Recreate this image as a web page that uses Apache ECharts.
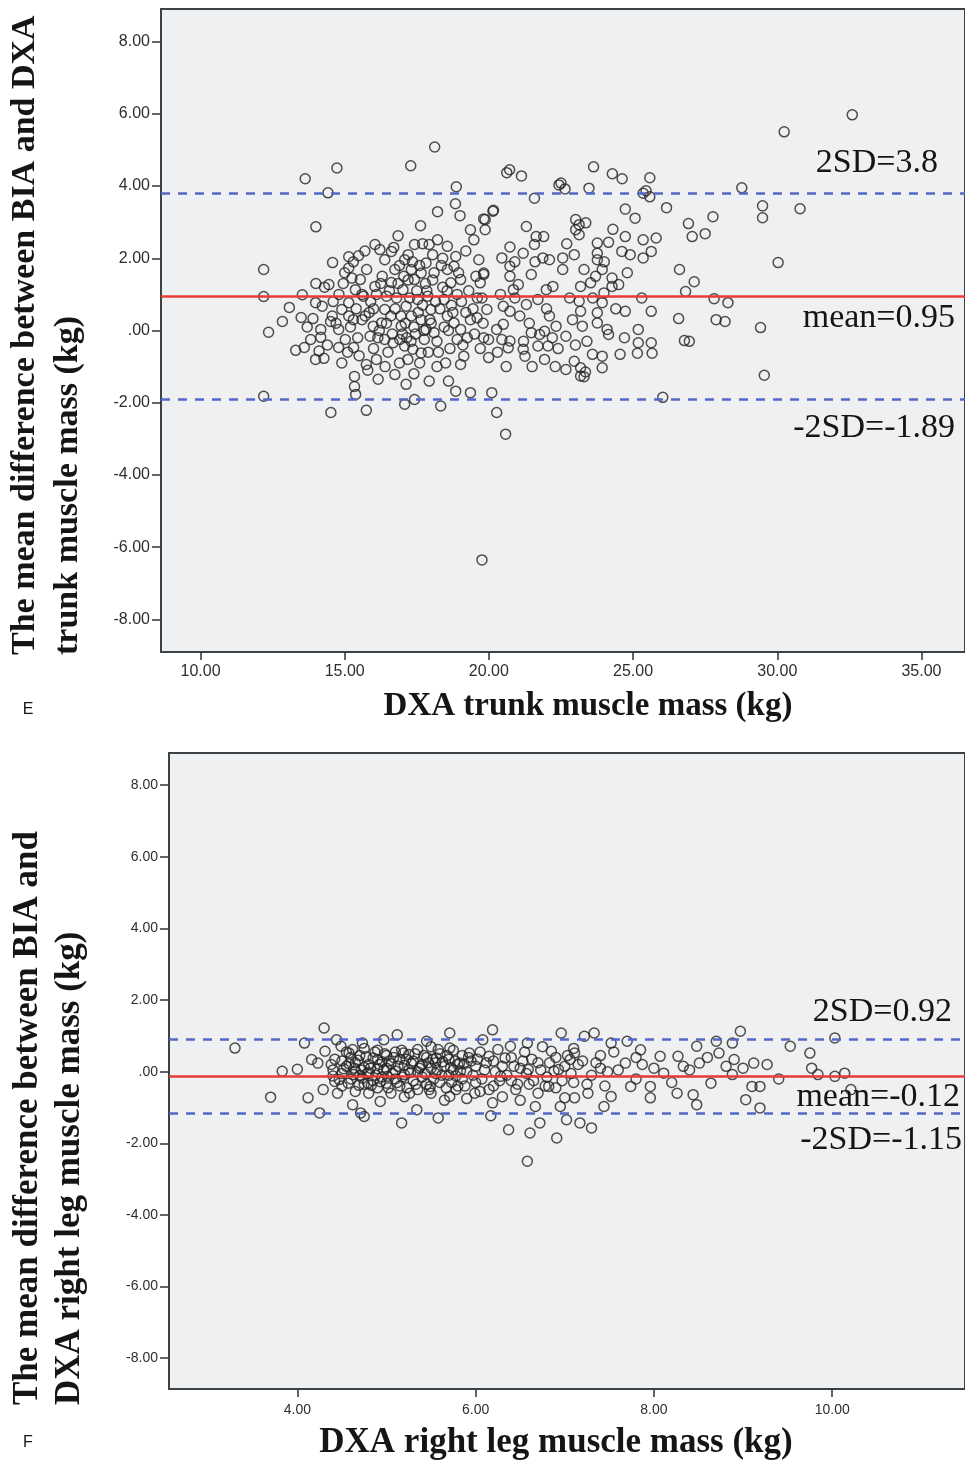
<!DOCTYPE html>
<html>
<head>
<meta charset="utf-8">
<script src="https://cdn.jsdelivr.net/npm/echarts@6/dist/echarts.min.js"></script>
<style>
  html, body { margin: 0; padding: 0; background: #fff; }
  #chart { width: 965px; height: 1463px; }
</style>
</head>
<body>
<div id="chart"></div>
<script>
// panel E: DXA trunk muscle mass vs BIA-DXA difference
var trunkPoints = [
  [12.19,1.69],[12.19,0.94],[12.36,-0.05],[12.19,-1.82],[13.63,4.20],[14.73,4.50],[14.42,3.81],[14.0,2.87],
  [12.84,0.25],[14.52,-2.27],[15.75,-2.21],[17.29,4.56],[18.12,5.08],[18.87,3.98],[19.76,-6.35],[20.58,-2.87],
  [20.27,-2.27],[20.72,4.45],[21.13,4.28],[22.43,4.03],[22.64,3.92],[23.63,4.53],[24.28,4.34],[24.62,4.20],
  [25.58,4.23],[25.45,3.87],[25.58,3.70],[26.16,3.40],[26.03,-1.85],[28.77,3.95],[27.77,3.15],[27.5,2.68],
  [26.92,2.96],[27.05,2.60],[26.61,1.69],[27.12,1.35],[26.82,1.08],[27.81,0.88],[28.29,0.77],[27.88,0.30],
  [28.19,0.25],[26.78,-0.28],[26.95,-0.3],[26.58,0.33],[29.42,0.08],[29.55,-1.24],[29.49,3.12],[29.49,3.45],
  [30.03,1.88],[30.24,5.50],[30.79,3.37],[32.6,5.97],
  [18.84,3.51],[19.0,3.18],[18.22,3.29],[17.63,2.90],[16.85,2.62],[16.05,2.38],[13.08,0.64],[13.53,0.99],
  [13.49,0.36],[13.6,-0.47],[13.82,-0.25],[13.99,-0.80],[14.28,-0.77],[14.17,-0.19],[13.9,0.33],[13.99,0.77],
  [14.45,1.27],[14.58,1.88],[14.51,0.25],[14.9,0.58],[15.14,2.04],[15.48,2.07],[14.79,-0.47],[15.31,-0.47],
  [15.34,-1.27],[15.34,-1.55],[15.38,-1.77],[15.75,-0.94],[16.1,-0.8],[16.16,-1.35],[15.88,-0.16],[15.99,0.12],
  [15.71,0.40],[15.65,0.95],[15.54,1.41],[15.76,1.69],[16.05,1.22],[16.22,2.24],[16.39,1.96],[16.62,2.19],
  [16.74,1.69],[16.62,1.33],[16.45,0.95],[16.39,0.58],[16.28,0.21],[16.39,-0.25],[16.68,-0.34],[16.74,-1.22],
  [17.13,-1.49],[17.08,-2.04],[17.42,-1.91],[17.93,-1.4],[18.33,-2.09],[18.85,-1.68],[19.36,-1.72],[19.02,-0.94],
  [19.13,-0.71],[18.9,-0.25],[19.02,0.03],[18.79,0.21],[18.56,0.40],[18.45,0.86],[18.68,1.32],[19.02,1.41],
  [18.56,1.69],[18.79,1.78],[18.85,2.05],[18.56,2.33],[18.22,2.51],[17.93,2.38],[18.05,2.1],[17.82,1.87],
  [17.65,1.59],[17.42,1.41],[17.31,1.69],[17.42,2.38],[17.08,1.96],[17.02,1.13],[17.13,0.67],[17.53,0.86],
  [17.88,0.95],[17.99,0.58],[17.65,0.30],[17.31,0.40],[16.96,0.12],[16.91,-0.25],[17.08,-0.43],[17.36,-0.52],
  [17.65,-0.62],[17.76,-0.25],[17.82,0.03],[18.1,-0.06],[17.19,-0.80],[14.57,0.40],[14.79,0.03],[15.02,-0.25],
  [15.14,0.40],[15.14,0.77],[15.37,1.13],[15.25,1.45],[15.14,1.73],[14.22,0.67],[14.17,0.03],[14.11,-0.57],
  [19.76,0.90],[19.7,1.32],[19.82,1.59],[19.65,1.96],[19.48,2.51],[19.36,2.79],[19.87,2.79],[19.82,3.09],
  [20.14,3.30],[19.93,0.58],[19.59,0.35],[19.36,0.30],[19.99,-0.25],[19.99,-0.75],[20.1,-1.72],[20.27,0.03],
  [20.62,4.37],[22.5,4.08],[23.47,3.94],[25.35,3.80],[21.58,3.66],[20.16,3.33],[19.87,3.07],[21.3,2.88],
  [21.64,2.60],[21.58,2.38],[20.73,2.31],[21.19,2.14],[21.87,2.01],[22.1,1.96],[22.56,2.01],[22.96,2.10],
  [22.56,1.69],[23.01,3.07],[23.13,2.93],[23.01,2.79],[23.36,2.98],[23.13,2.65],[23.76,2.42],[24.15,2.44],
  [23.76,2.14],[23.76,1.96],[24.61,2.19],[24.73,2.60],[24.73,3.36],[25.07,3.11],[25.35,2.51],[25.35,2.01],
  [25.63,2.19],[25.8,2.56],[25.63,0.53],[25.63,-0.34],[25.18,0.03],[25.18,-0.34],[25.3,0.90],[24.73,0.53],
  [24.55,-0.66],[24.5,1.27],[24.27,1.22],[24.27,1.45],[23.93,1.69],[23.7,1.50],[23.99,1.04],[23.93,0.77],
  [23.76,0.49],[23.76,0.21],[24.1,0.03],[24.15,-0.11],[23.93,-0.71],[23.93,-1.03],[23.59,-0.66],[23.18,0.53],
  [23.24,0.12],[23.13,0.81],[23.18,1.22],[23.3,1.69],[23.53,1.32],[22.96,-0.85],[22.67,-1.08],[23.18,-1.03],
  [23.18,-1.26],[22.67,-0.16],[22.33,0.12],[22.1,0.40],[22.22,1.22],[21.99,1.13],[21.7,0.86],[21.47,1.55],
  [21.02,1.27],[20.85,1.13],[20.73,1.50],[20.45,2.01],[20.73,1.78],[19.82,1.55],[20.5,0.67],[20.73,0.53],
  [21.07,0.40],[21.3,0.72],[19.82,-0.20],[20.5,0.17],[20.45,-0.25],[20.73,-0.29],[20.67,-0.48],[21.19,-0.52],
  [21.25,-0.71],[21.47,-0.06],[21.76,-0.11],[21.93,-0.02],[22.05,-0.43],[21.93,-0.80],[21.7,-0.43],
  [25.15,-0.63],[25.66,-0.63],[23.3,-1.28],[23.35,-1.15],
  [15.2,0.1],[15.4,0.6],[15.6,0.3],[15.9,0.8],[16.0,-0.5],[16.2,0.0],[16.3,1.5],[16.5,-0.6],
  [16.6,0.4],[16.8,0.9],[16.9,1.8],[17.0,-0.1],[17.1,0.2],[17.2,1.4],[17.3,-0.3],[17.4,0.1],
  [17.5,1.1],[17.6,-0.9],[17.7,0.7],[17.8,1.3],[17.9,-0.6],[18.0,0.2],[18.1,1.6],[18.2,-0.3],
  [18.3,0.6],[18.4,1.2],[18.5,-0.9],[18.6,0.0],[18.7,0.7],[18.9,1.0],[19.1,-0.4],[19.2,0.5],
  [19.3,1.1],[19.5,-0.1],[19.6,0.9],[19.8,0.2],[15.5,-0.7],[15.8,-1.1],[16.4,-1.0],[16.9,-0.9],
  [17.4,-1.2],[18.2,-1.0],[18.6,-1.4],[14.8,1.0],[14.9,-0.9],[15.0,1.6],[15.3,1.9],[15.7,2.2],
  [16.1,1.0],[16.7,2.3],[17.2,2.1],[17.7,2.4],[18.4,2.0],[19.2,2.2],[14.4,-0.4],[14.6,0.8],
  [13.7,0.1],[13.3,-0.55],[14.0,1.3],[14.3,1.2],
  [20.9,0.9],[21.4,0.2],[21.6,1.9],[22.0,0.6],[22.4,-0.5],[22.8,0.9],[22.9,0.3],[23.4,-0.3],
  [23.6,0.9],[24.0,1.9],[24.4,0.6],[24.8,1.6],[22.3,-1.0],[21.2,-0.3],[20.4,1.0],[20.9,1.9],
  [22.7,2.4],[24.3,2.8],[21.9,2.6],[22.2,-0.2],[23.0,-0.4],[24.7,-0.2],[24.9,2.1],[20.3,-0.6],
  [20.6,-1.0],[21.5,-1.0],
  [15.1,-0.6],[15.3,0.3],[15.45,-0.2],[15.6,1.0],[15.85,0.5],[16.0,0.6],[16.15,-0.2],[16.25,1.3],
  [16.45,0.2],[16.55,1.1],[16.65,-0.1],[16.75,0.6],[16.85,1.3],[16.95,0.4],[17.05,1.5],[17.15,-0.2],
  [17.25,0.9],[17.35,1.9],[17.45,-0.1],[17.55,0.5],[17.6,1.8],[17.75,0.0],[17.85,1.1],[17.95,0.3],
  [18.05,1.4],[18.15,0.8],[18.25,-0.6],[18.35,1.8],[18.45,0.1],[18.55,1.1],[18.65,-0.5],[18.75,0.5],
  [18.95,1.6],[19.05,0.8],[19.25,-0.2],[19.45,0.6],[19.55,1.5],[19.7,-0.5],[14.7,0.2],[14.95,1.3]
];
var trunkLimits = [3.8, 0.95, -1.89];
var trunkXTicks = [10, 15, 20, 25, 30, 35];

// panel F: DXA right leg muscle mass vs BIA-DXA difference
var legPoints = [
  [3.30,0.66],[3.70,-0.71],[3.83,0.01],[4.0,0.07],[4.08,0.80],[4.30,1.22],[4.12,-0.73],[4.25,-1.15],
  [4.16,0.34],[4.23,0.24],[4.31,0.57],[4.29,-0.50],[4.38,0.20],[4.44,0.89],[4.49,0.71],[4.42,-0.27],
  [4.45,-0.60],[4.58,0.52],[4.62,-0.92],[4.71,-1.15],[4.75,-1.25],[4.73,0.80],[4.64,0.10],[4.79,-0.32],
  [4.90,0.34],[4.97,0.89],[4.93,-0.83],[5.01,-0.13],[5.12,1.03],[5.17,-1.43],[5.19,0.52],[5.26,-0.60],
  [5.34,-1.06],[5.38,0.15],[5.45,0.85],[5.49,-0.41],[5.58,-1.29],[5.56,0.38],[5.71,1.08],[5.71,0.66],
  [5.71,-0.69],[5.82,0.24],[5.78,-0.50],[5.93,0.52],[5.99,-0.60],[6.08,0.89],[6.15,0.43],[6.19,1.17],
  [6.19,-0.87],[6.17,-1.23],[6.28,-0.13],[6.37,-1.62],[6.39,0.71],[6.45,-0.50],[6.58,0.80],[6.61,-1.71],
  [6.58,-2.50],[6.59,0.06],[6.72,-1.43],[6.67,-0.97],[6.85,0.57],[6.82,-0.41],[6.91,-1.85],[6.96,1.08],
  [6.93,0.06],[7.02,-1.34],[7.0,-0.73],[7.06,0.34],
  [7.22,0.99],[7.33,1.08],[7.11,0.52],[6.95,-0.97],[7.17,-1.43],[7.3,-1.57],[7.11,-0.73],[7.26,-0.60],
  [7.44,-0.97],[7.52,-0.69],[7.52,0.80],[7.70,0.85],[7.68,0.24],[7.74,-0.41],[7.85,0.61],[7.87,0.20],
  [7.96,-0.41],[7.96,-0.73],[8.07,0.43],[8.11,-0.04],[8.26,-0.60],[8.27,0.43],[8.33,0.15],[8.44,-0.64],
  [8.48,-0.92],[8.48,0.71],[8.51,0.24],[8.64,-0.32],[8.70,0.85],[8.73,0.52],[8.81,0.15],[8.88,0.80],
  [8.90,0.34],[8.97,1.13],[8.88,-0.08],[9.03,-0.78],[9.10,-0.41],[9.12,0.24],[9.19,-0.41],[9.19,-1.01],
  [9.27,0.20],[9.53,0.71],[9.75,0.52],[9.77,0.10],[9.84,-0.08],[10.03,0.94],[10.03,-0.13],[10.14,-0.04],
  [10.21,-0.50],
  [4.40,0.05],[4.40,-0.12],[4.50,0.30],[4.50,-0.05],[4.50,-0.40],[4.55,0.15],[4.55,0.55],[4.60,-0.20],
  [4.60,0.40],[4.65,0.02],[4.65,-0.55],[4.65,0.25],[4.70,0.45],[4.70,-0.10],[4.75,-0.35],[4.75,0.12],
  [4.75,0.65],[4.80,0.20],[4.80,-0.60],[4.80,-0.02],[4.85,0.38],[4.85,-0.25],[4.90,0.08],[4.90,-0.45],
  [4.90,0.60],[4.95,-0.15],[4.95,0.28],[5.00,0.45],[5.00,-0.32],[5.00,0.10],[5.05,-0.60],[5.05,0.22],
  [5.10,0.02],[5.10,0.55],[5.10,-0.20],[5.15,0.35],[5.15,-0.40],[5.20,-0.08],[5.20,0.18],[5.20,-0.70],
  [5.25,0.48],[5.25,0.05],[5.30,-0.25],[5.30,0.30],[5.35,0.62],[5.35,-0.50],[5.35,0.00],[5.40,0.20],
  [5.40,-0.15],[5.45,-0.35],[5.45,0.40],[5.50,0.10],[5.50,-0.60],[5.50,0.70],[5.55,-0.05],[5.55,0.25],
  [5.60,0.50],[5.60,-0.30],[5.65,0.15],[5.65,-0.80],[5.70,-0.10],[5.70,0.35],[5.75,0.60],[5.75,0.05],
  [5.80,-0.40],[5.80,0.20],[5.85,0.45],[5.85,-0.20],[5.90,0.00],[5.90,-0.75],[5.95,0.30],[6.00,-0.30],
  [6.00,0.15],[6.05,0.55],[6.05,-0.55],[6.10,0.05],[6.20,0.30],[6.20,-0.40],[6.25,0.62],[6.30,-0.70],
  [6.30,0.15],[6.40,0.40],[6.40,-0.25],[6.50,0.10],[6.50,-0.80],[6.55,0.55],[6.60,-0.35],[6.70,0.25],
  [6.70,-0.60],[6.75,0.70],[6.80,-0.15],[6.90,0.40],[6.90,-0.45],[7.00,0.15],[7.10,-0.30],[7.10,0.65],
  [7.20,0.30],[7.30,-0.10],[7.40,0.45],[7.40,0.10],[7.45,-0.40],[7.55,0.55],[7.60,0.05],[7.80,-0.20],
  [7.80,0.40],[8.00,0.10],[8.20,-0.30],[8.40,0.05],[8.60,0.40],[9.00,0.10],[9.40,-0.20],
  [4.42,0.35],[4.47,-0.22],[4.52,0.08],[4.57,-0.32],[4.58,0.22],[4.62,0.62],[4.63,-0.08],[4.68,0.32],
  [4.69,-0.38],[4.72,0.05],[4.73,-0.18],[4.77,0.42],[4.78,-0.05],[4.82,0.10],[4.83,-0.38],[4.87,0.55],
  [4.88,-0.10],[4.92,0.20],[4.93,-0.28],[4.97,0.05],[4.98,0.50],[5.02,-0.45],[5.03,0.30],[5.07,-0.05],
  [5.08,0.40],[5.12,-0.30],[5.13,0.15],[5.17,0.60],[5.18,-0.15],[5.22,0.35],[5.23,-0.45],[5.27,-0.02],
  [5.28,0.22],[5.32,0.50],[5.33,-0.35],[5.37,0.10],[5.42,0.45],[5.43,-0.05],[5.47,0.25],[5.48,-0.50],
  [5.52,0.35],[5.53,-0.20],[5.57,0.05],[5.58,0.62],[5.62,-0.10],[5.63,0.28],[5.67,-0.45],[5.68,0.45],
  [5.72,0.12],[5.73,-0.30],[5.77,0.30],[5.78,-0.12],[5.83,0.02],[5.87,0.22],[5.88,-0.40],[5.92,0.40],
  [5.97,-0.10],[6.02,0.35],[6.07,-0.20],[6.12,0.25],[6.15,-0.50],[6.22,0.00],[6.27,-0.25],[6.33,0.38],
  [6.35,-0.10],[6.43,0.15],[6.47,-0.35],[6.53,0.30],[6.57,-0.05],[6.63,0.35],[6.65,-0.25],[6.73,0.05],
  [6.78,-0.40],[6.83,0.25],[6.88,0.02],[6.97,-0.25],[7.03,0.45],[7.07,-0.05],[7.15,0.20],[7.25,-0.35],
  [7.35,0.25],[7.48,0.00]
];
var legLimits = [0.92, -0.12, -1.15];
var legXTicks = [4, 6, 8, 10];

var yTicks = [-8, -6, -4, -2, 0, 2, 4, 6, 8];

var plotBg = '#eef0f1';
var frame = '#3a4246';
var red = '#e83a36';
var blue = '#5567c6';

function fmt(v) {
  return v === 0 ? '.00' : v.toFixed(2);
}

function limitLines(vals) {
  return {
    silent: true,
    symbol: ['none', 'none'],
    label: { show: false },
    data: [
      { yAxis: vals[0], lineStyle: { color: blue, width: 2.5, type: [9, 8] } },
      { yAxis: vals[1], lineStyle: { color: red, width: 2.5, type: 'solid' } },
      { yAxis: vals[2], lineStyle: { color: blue, width: 2.5, type: [9, 8] } }
    ]
  };
}

function xAxisFor(grid, min, max, ticks, size, margin) {
  return {
    gridIndex: grid, type: 'value', min: min, max: max,
    splitLine: { show: false },
    axisLine: { show: false, onZero: false },
    axisTick: { show: true, length: 8, customValues: ticks, lineStyle: { color: '#333', width: 1.5 } },
    axisLabel: { customValues: ticks, formatter: fmt, fontSize: size, margin: margin,
      color: '#2e2e2e', fontFamily: '"Liberation Sans", Arial, sans-serif' }
  };
}

function yAxisFor(grid, min, max, size) {
  return {
    gridIndex: grid, type: 'value', min: min, max: max,
    splitLine: { show: false },
    axisLine: { show: false, onZero: false },
    axisTick: { show: true, length: 9, customValues: yTicks, lineStyle: { color: '#333', width: 1.5 } },
    axisLabel: { customValues: yTicks, formatter: fmt, fontSize: size, margin: 11,
      color: '#2e2e2e', fontFamily: '"Liberation Sans", Arial, sans-serif' }
  };
}

function scatterFor(idx, pts, lines) {
  return {
    type: 'scatter', xAxisIndex: idx, yAxisIndex: idx,
    data: pts, symbol: 'circle', symbolSize: 10,
    itemStyle: { color: 'rgba(0,0,0,0)', borderColor: '#242424', borderWidth: 1.5 },
    markLine: limitLines(lines)
  };
}

var serif = '"Liberation Serif", "Times New Roman", serif';
function txt(x, y, s, font, align, rot) {
  return {
    type: 'text', x: x, y: y, z: 100, rotation: rot || 0,
    style: { text: s, font: font, fill: '#151515', textAlign: align, textVerticalAlign: 'middle' }
  };
}

var chart = echarts.init(document.getElementById('chart'), null, { renderer: 'canvas' });

var option = {
  animation: false,
  backgroundColor: '#ffffff',
  grid: [
    { left: 161, top: 9, width: 814, height: 643, show: true, backgroundColor: plotBg, borderColor: frame, borderWidth: 2 },
    { left: 169, top: 753, width: 806, height: 636, show: true, backgroundColor: plotBg, borderColor: frame, borderWidth: 2 }
  ],
  xAxis: [
    xAxisFor(0, 8.63, 36.51, trunkXTicks, 16, 12),
    xAxisFor(1, 2.56, 11.49, legXTicks, 14, 14)
  ],
  yAxis: [
    yAxisFor(0, -8.9, 8.9, 16),
    yAxisFor(1, -8.86, 8.9, 14)
  ],
  series: [
    scatterFor(0, trunkPoints, trunkLimits),
    scatterFor(1, legPoints, legLimits)
  ],
  graphic: [
    txt(25, 655, 'The mean difference between BIA and DXA', 'bold 34px ' + serif, 'left', Math.PI / 2),
    txt(68, 655, 'trunk muscle mass (kg)', 'bold 34px ' + serif, 'left', Math.PI / 2),
    txt(588, 706, 'DXA trunk muscle mass (kg)', 'bold 33px ' + serif, 'center'),
    txt(28, 710, 'E', '16px "Liberation Sans", Arial, sans-serif', 'center'),
    txt(938, 163, '2SD=3.8', '34px ' + serif, 'right'),
    txt(955, 318, 'mean=0.95', '34px ' + serif, 'right'),
    txt(955, 428, '-2SD=-1.89', '34px ' + serif, 'right'),

    txt(28, 1405, 'The mean difference between BIA and', 'bold 35px ' + serif, 'left', Math.PI / 2),
    txt(70, 1405, 'DXA right leg muscle mass (kg)', 'bold 35px ' + serif, 'left', Math.PI / 2),
    txt(556, 1443, 'DXA right leg muscle mass (kg)', 'bold 35px ' + serif, 'center'),
    txt(28, 1443, 'F', '16px "Liberation Sans", Arial, sans-serif', 'center'),
    txt(952, 1012, '2SD=0.92', '34px ' + serif, 'right'),
    txt(960, 1097, 'mean=-0.12', '34px ' + serif, 'right'),
    txt(962, 1140, '-2SD=-1.15', '34px ' + serif, 'right')
  ]
};

chart.setOption(option);
</script>
</body>
</html>
